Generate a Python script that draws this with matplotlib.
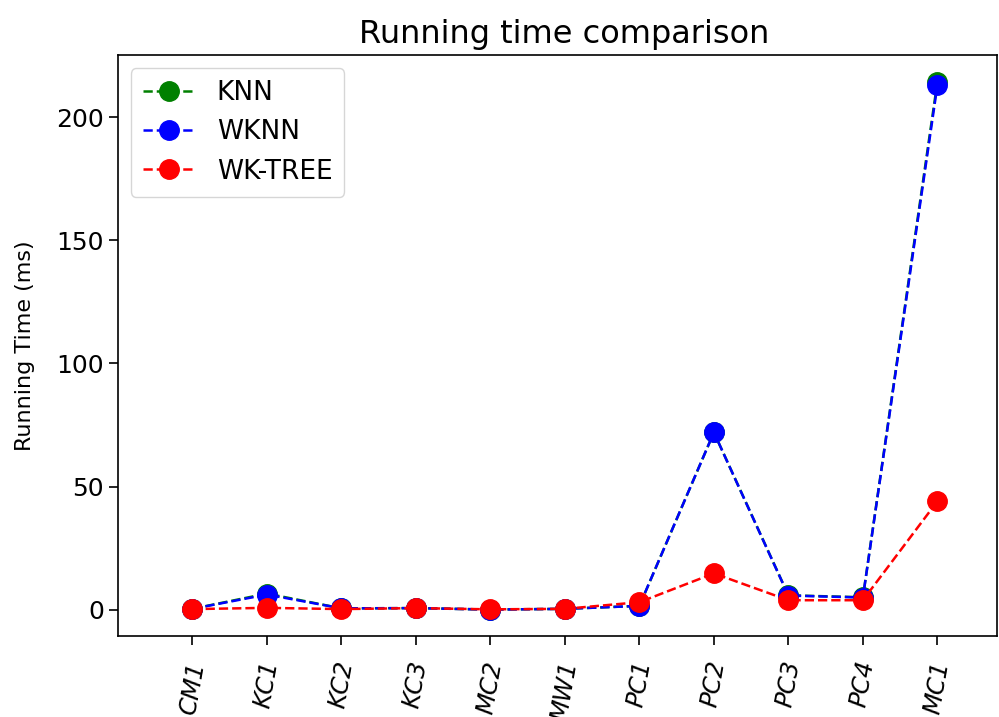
import matplotlib
matplotlib.use("Agg")
import matplotlib.pyplot as plt

datasets = ["CM1", "KC1", "KC2", "KC3", "MC2", "MW1", "PC1", "PC2", "PC3", "PC4", "MC1"]
knn = [0.3, 6.5, 0.5, 0.6, 0.0, 0.3, 1.5, 72.0, 5.8, 5.0, 214.5]
wknn = [0.3, 6.1, 0.5, 0.6, 0.0, 0.3, 1.5, 72.0, 5.7, 4.9, 213.0]
wktree = [0.2, 0.7, 0.2, 0.6, 0.1, 0.3, 3.0, 14.7, 3.8, 3.8, 44.0]

fig = plt.figure(figsize=(9.99, 7.17), dpi=100)
ax = fig.add_axes([0.118, 0.113, 0.880, 0.810])
x = list(range(len(datasets)))
ax.plot(x, knn, "--o", color="green", lw=1.8, ms=14, label="KNN")
ax.plot(x, wknn, "--o", color="blue", lw=1.8, ms=14, label="WKNN")
ax.plot(x, wktree, "--o", color="red", lw=1.8, ms=14, label="WK-TREE")
ax.set_xticks(x)
ax.set_xticklabels(datasets, rotation=80, style="italic", fontsize=17.5)
ax.set_xlim(-1, 10.8)
ax.set_yticks([0, 50, 100, 150, 200])
ax.tick_params(axis="y", labelsize=18, length=6.5, width=1.2)
ax.tick_params(axis="x", length=6.5, width=1.2, pad=10)
ax.set_ylabel("Running Time (ms)", fontsize=16, labelpad=15)
ax.set_title("Running time comparison", fontsize=23, pad=9, x=0.508)
for s in ax.spines.values():
    s.set_linewidth(1.2)
ax.legend(loc="upper left", fontsize=19, borderpad=0.45)
fig.savefig("out.png", dpi=100)
